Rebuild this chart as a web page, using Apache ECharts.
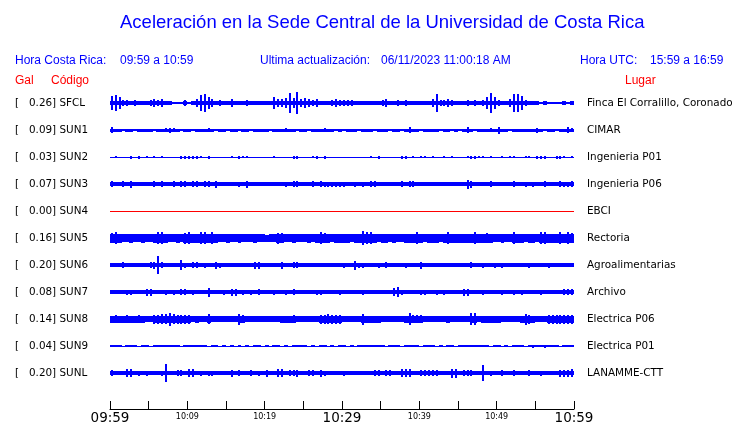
<!DOCTYPE html>
<html><head><meta charset="utf-8">
<script src="https://cdn.jsdelivr.net/npm/echarts@6/dist/echarts.min.js"></script>
<style>html,body{margin:0;padding:0;background:#fff}#c{width:740px;height:423px}</style>
</head><body><div id="c"></div>
<script>
// ---- data ----
const codes  = ['SFCL','SUN1','SUN2','SUN3','SUN4','SUN5','SUN6','SUN7','SUN8','SUN9','SUNL'];
const gal    = ['0.26','0.09','0.03','0.07','0.00','0.16','0.20','0.08','0.14','0.04','0.20'];
const places = ['Finca El Corralillo, Coronado','CIMAR','Ingenieria P01','Ingenieria P06','EBCI','Rectoria',
                'Agroalimentarias','Archivo','Electrica P06','Electrica P01','LANAMME-CTT'];
const tickLabels = ['09:59','','10:09','','10:19','','10:29','','10:39','','10:49','','10:59'];
const majorLabels = ['09:59','10:29','10:59'];
const minutesSpan = 60;

// trace envelopes (half amplitude, display units) sampled every 30 s from 09:59 to 10:59
const SFCL = [7,8,6,3,3,2,3,2,2,2, 3,4,3,4,2,2,1,1,1,3, 1,2,4,8,9,6,4,2,3,2, 2,4,2,2,2,3,2,2,2,2,
              2,2,6,4,4,5,10,5,11,4, 5,4,3,4,2,2,2,3,4,3, 3,3,3,2,2,2,2,2,2,2, 3,4,2,2,3,2,3,2,2,2,
              2,2,2,4,9,3,3,4,3,2, 2,2,3,2,3,2,3,6,10,6, 3,2,2,4,9,9,7,3,2,2, 2,1,2,1,1,1,1,2,1,2];
const SUN1 = [3,1.5,1.5,1,1.5,1.5,1,1.5,1.5,1.5, 1.5,1,1.5,1.5,2,2.5,2,1.5,1,1.5, 1.5,1,1.5,1.5,1.5,2,1.5,1,1.5,1.5,
              1,1.5,1.5,1,1.5,1.5,1,1.5,1.5,1.5, 1.5,1,1.5,1.5,1.5,2,1.5,1.5,1,1.5, 1.5,1,1.5,1.5,1.5,2,1.5,1.5,1,1.5,
              1,1.5,1.5,1.5,1,1.5,1.5,1.5,1,1.5, 1.5,1.5,1,1.5,1.5,1,1.5,3,1.5,1.5, 1,1.5,1.5,1.5,1.5,1,1.5,1.5,1,1.5,
              1,1.5,3,1.5,1,1.5,1.5,1.5,2,1.5, 3.5,1.5,1.5,1,1.5,1.5,1.5,1.5,1.5,1.5, 2.5,1.5,1,1.5,1.5,1,1.5,1.5,3,2];
const SUN2 = [0.5,1,0.5,0.5,0.5,1.5,0.5,1.5,0.5,1, 0.5,1,0.5,1,0.5,0.5,0.5,0.5,1.5,1.5, 1.5,1.5,1.5,1,0.5,1.5,0.5,0.5,0.5,0.5,
              0.5,1,0.5,1.5,1,1,0.5,0.5,0.5,0.5, 0.5,0.5,1,0.5,0.5,0.5,0.5,1.5,1.5,0.5, 0.5,0.5,1,1.5,0.5,1.5,0.5,0.5,0.5,0.5,
              0.5,0.5,0.5,0.5,0.5,0.5,0.5,1,0.5,1.5, 0.5,0.5,0.5,0.5,0.5,1.5,1.5,0.5,1,0.5, 1,1,0.5,1,0.5,0.5,1,0.5,1,0.5,
              0.5,0.5,1,1.5,1.5,1,1,0.5,1,0.5, 0.5,1,0.5,1,1,0.5,0.5,1,1,0.5, 1.5,1.5,1.5,0.5,0.5,1.5,1.5,1,0.5,1];
const SUN3 = [3,2,2,3,2,3.5,2,2,2,2, 2,3,2,3,2,2,3,2,3,3, 2,3,3,2,3,3,2,3.5,2,2,
              2,2,2,2.5,2,3.5,2,2,2,2, 2,2,2,2,2,2.5,2,3,3,2, 2,2,3,2,3,2.5,2.5,2.5,2.5,2.5,
              2.5,2,2,2.5,2,2.5,2,3,3,2, 2,2,2,2,2,3,2,3,3,2, 2,2,2,2,2,2,2,2,2,2,
              2,2,4.5,3.5,2,2,2,2,3,2, 2,2,2,2,3,2,2,2.5,2,2.5, 2,2,3,2,2,2,3,2.5,2.5,3];
const SUN4 = [0,0,0,0,0,0];
const SUN5 = [5,6,4.5,4,4,4.5,4,4,4.5,4, 4,4.5,6,6,4.5,4,4,4.5,4,5.5, 6,4.5,4.5,6,6,4.5,6,4.5,4,4,
              4.5,4,4,4.5,4,4,4,4.5,4,4, 3.5,4,4,5.5,5,4,4,4.5,4,4, 4,4.5,4,4.5,6,5,4.5,4,4.5,4.5,
              4.5,4.5,4,4.5,4.5,7,6,6,4.5,4, 4.5,4.5,4,4.5,4,4,4.5,4.5,4.5,6, 4.5,4,4.5,4.5,4.5,4,4.5,6,4.5,4.5,
              4.5,4.5,4.5,4.5,6,4.5,4.5,5,4.5,4, 4,4.5,4,4,6,4.5,4.5,4,4.5,4.5, 4,6,6,4.5,4.5,4.5,6,4.5,6,5];
const SUN6 = [2,2,2,3,2,2,2,2,2,2, 3,3.5,9,3,2,2,2,2,5,2.5, 2,3,3,2,2.5,2,2,3.5,2.5,2,
              2,2,2,2,2,2,2,3.5,3.5,2, 2,2,2,2,3.5,2,2,3,3,2, 2,2,2,2,2,2,2,2,2,2,
              2.5,2,2,4.5,2.5,2.5,2,2,2,2.5, 2,3,2,2,2,2,2.5,2,2,2, 3.5,2,2,2,2,2,2,2,2,2,
              2,2,2,3,2,2,2.5,2,2,2.5, 2,2.5,2,2,2,2,2,2,2.5,2, 2,2,2,2.5,2,2,2,2,2,2];
const SUN7 = [2,2,2,2,2.5,2.5,2,2,2,3.5, 3.5,2,2,2,2.5,2,2.5,2,3,3, 2,2.5,2,2,2,4.5,2,2,2,2.5,
              2,3.5,3.5,2,2.5,2,2.5,2,3,2, 2,2,2.5,2,2,2.5,2,3,2,2, 2,2,2,2.5,2.5,2,2,2,2,2.5,
              2,2,2,2,2,2.5,2,2,2,2, 2,2,2,4,5,2.5,2,2,2,2, 2.5,2.5,2,2,2.5,2,2.5,2,2,2,
              2,3.5,3.5,2,2,2,2.5,2,2,2, 2,2.5,2,2,2.5,2,2.5,2,2,2, 2,2.5,2,2,2,2,2,3,3,3];
const SUN8 = [3.5,4,3.5,3.5,4,3.5,3.5,4,3.5,3, 3,4.5,4.5,5,5,6.5,5,4.5,4.5,4.5, 4.5,3,3.5,3,3,5,3,3,3,3,
              3,3,3,5.5,4,3,3,3,3,3, 3,3,3,3,3.5,3.5,3.5,4,3,3, 3,3,3,3,4.5,4.5,5,4.5,4.5,4.5,
              3,3,3,3,3,5.5,3.5,3.5,3.5,3.5, 3,3,3,3,3,3,3.5,6,4,4, 4,3,3,3,3,3,3,3.5,3,3,
              3,3,3,6,6,3,3.5,3.5,3.5,3.5, 3.5,3,3,3,3,3,3.5,5.5,4.5,3.5, 3,3,3,4.5,4.5,4.5,4.5,4.5,4.5,4.5];
const SUN9 = [1,1,1,0.5,1,1,1,0.5,1,1, 0.5,1,1,1,1,1,1,1,0.5,1, 1,1,1,1,1,0.5,1,1,0.5,1,
              0.5,1,0.5,1,0.5,1,0.5,1,1,0.5, 1,0.5,1,1,0.5,1,0.5,1,1,1, 1,0.5,1,0.5,1,1,0.5,1,0.5,1,
              1,0.5,1,0.5,1,1,1,1,1,1, 1,0.5,1,1,1,0.5,1,1,1,1, 0.5,1,1,1,0.5,1,0.5,1,1,0.5,
              1,1,1,1,1,1,1,1,0.5,1, 1,0.5,1,0.5,1,1,1,0.5,1,1.5, 1,1,1.5,1,1,1,0.5,1,1,1];
const SUNL = [3,2,2,2,4,4,2,2.5,2,2.5, 2,2,2,2.5,9,2,2,3,3,2, 4,4,2,2.5,2,2.5,2.5,2,2,2,
              2,3.5,2,3,2,2,3,2,2.5,2, 3.5,2,2,4,4,2,3,3,3.5,2, 2,3,3,2,3.5,2.5,2,2,2,2,
              2.5,2,2,2,2,2,2,2,3,3, 2,3,3,2,2,4,4,4,2,2, 3,3,3,3,3,2,2,2,4.5,4.5,
              2,3,3,3,2,2,8,2,2.5,2, 2,3,2,2,3,2,2,2,3,2, 2,2.5,2,2,2,2,3.5,3.5,3.5,4];
const traces = [SFCL,SUN1,SUN2,SUN3,SUN4,SUN5,SUN6,SUN7,SUN8,SUN9,SUNL];
const traceColors = ['#0000ff','#0000ff','#0000ff','#0000ff','#ff0000','#0000ff','#0000ff','#0000ff','#0000ff','#0000ff','#0000ff'];

// ---- chart ----
const GAIN = 1 / 27; // trace rows per amplitude unit
const chart = echarts.init(document.getElementById('c'), null, {renderer: 'canvas'});

function median(arr) {
  const s = arr.slice().sort((a, b) => a - b);
  return s[Math.floor(s.length / 2)];
}

const series = traces.map((arr, row) => {
  const dt = minutesSpan / arr.length;
  const band = median(arr);
  const data = arr.map((a, k) => [row, k * dt, (k + 1) * dt, a]);
  const color = traceColors[row];
  const yRange = (api, r, a) => {
    const q0 = api.coord([0, r - a * GAIN]), q1 = api.coord([0, r + a * GAIN]);
    let ya = Math.round(Math.min(q0[1], q1[1])), yb = Math.round(Math.max(q0[1], q1[1]));
    if (yb - ya < 1) { ya = Math.floor((q0[1] + q1[1]) / 2); yb = ya + 1; }
    return [ya, yb];
  };
  return {
    type: 'custom', name: codes[row], data,
    encode: {x: [1, 2], y: 0},
    silent: true, clip: false,
    renderItem(params, api) {
      const r = api.value(0), t0 = api.value(1), t1 = api.value(2), a = api.value(3);
      const x0 = Math.round(api.coord([t0, r])[0]), x1 = Math.round(api.coord([t1, r])[0]);
      const children = [];
      const [ba, bb] = yRange(api, r, Math.min(a, band));
      children.push({type: 'rect', shape: {x: x0, y: ba, width: x1 - x0, height: bb - ba},
                     style: {fill: color}});
      if (a > band) {
        const [sa, sb] = yRange(api, r, a);
        const w = Math.max(1, Math.round((x1 - x0) / 2));
        const xs = x0 + Math.floor((x1 - x0 - w) / 2);
        children.push({type: 'rect', shape: {x: xs, y: sa, width: w, height: sb - sa},
                       style: {fill: color}});
      }
      return {type: 'group', children};
    }
  };
});

const txt = (text, left, top, size, fill) => ({
  type: 'text', left, top,
  style: {text, fill, font: size + 'px "Liberation Sans", Arial, sans-serif'}
});

const option = {
  animation: false,
  backgroundColor: '#fff',
  graphic: [
    txt('Aceleración en la Sede Central de la Universidad de Costa Rica', 120, 13, 18.5, '#0000ff'),
    txt('Hora Costa Rica:', 15, 55, 12, '#0000ff'),
    txt('09:59 a 10:59', 120, 55, 12, '#0000ff'),
    txt('Ultima actualización:', 260, 55, 12, '#0000ff'),
    txt('06/11/2023 11:00:18 AM', 381, 55, 12, '#0000ff'),
    txt('Hora UTC:', 580, 55, 12, '#0000ff'),
    txt('15:59 a 16:59', 650, 55, 12, '#0000ff'),
    txt('Gal', 15, 75, 12, '#ff0000'),
    txt('Código', 51, 75, 12, '#ff0000'),
    txt('Lugar', 625, 75, 12, '#ff0000')
  ],
  grid: {left: 110, right: 166, top: 76, bottom: 14, containLabel: false, outerBoundsMode: 'none'},
  xAxis: {
    type: 'value', min: 0, max: minutesSpan, interval: 5, position: 'bottom', z: 10,
    axisLine: {show: true, onZero: false, lineStyle: {color: '#000', width: 1, type: 'solid'}},
    axisTick: {show: true, inside: true, length: 8, lineStyle: {color: '#000', width: 1}},
    splitLine: {show: false},
    axisLabel: {
      margin: 2, color: '#000',
      formatter: v => {
        const s = tickLabels[Math.round(v / 5)] || '';
        if (!s) return '';
        return majorLabels.includes(s) ? '{big|' + s + '}' : '{small|' + s + '}';
      },
      rich: {
        big: {fontFamily: '"DejaVu Sans"', fontSize: 13.5, lineHeight: 14, color: '#000'},
        small: {fontFamily: '"DejaVu Sans"', fontSize: 8, lineHeight: 12, color: '#000'}
      }
    }
  },
  yAxis: [
    {
      type: 'value', min: -1, max: 11.3333, interval: 1, inverse: true, position: 'left',
      axisLine: {show: false}, axisTick: {show: false}, splitLine: {show: false},
      axisLabel: {
        align: 'left', margin: 95, color: '#000', fontFamily: '"DejaVu Sans"', fontSize: 10.4,
        formatter: v => (Number.isInteger(v) && v >= 0 && v < codes.length) ? '[   ' + gal[v] + '] ' + codes[v] : ''
      }
    },
    {
      type: 'value', min: -1, max: 11.3333, interval: 1, inverse: true, position: 'right',
      axisLine: {show: false}, axisTick: {show: false}, splitLine: {show: false},
      axisLabel: {
        align: 'left', margin: 13, color: '#000', fontFamily: '"DejaVu Sans"', fontSize: 10.4,
        formatter: v => (Number.isInteger(v) && v >= 0 && v < places.length) ? places[v] : ''
      }
    }
  ],
  series
};
chart.setOption(option);
</script></body></html>
